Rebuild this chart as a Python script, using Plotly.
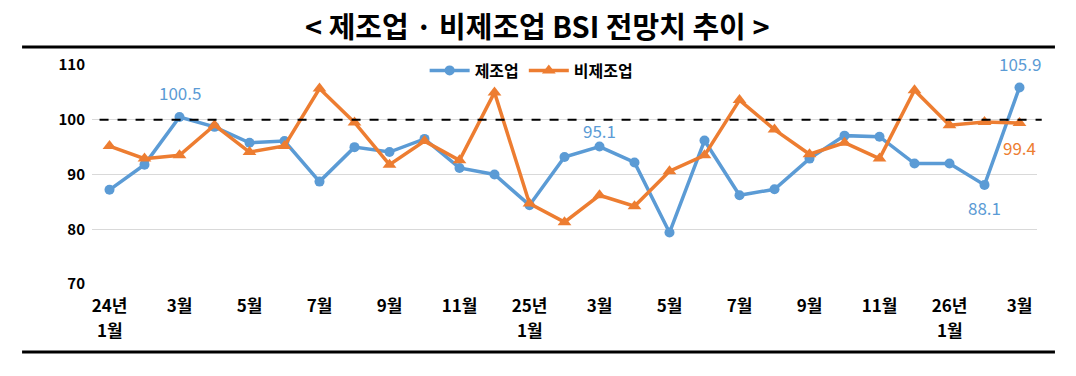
import plotly.graph_objects as go

categories = ["24.01","24.02","24.03","24.04","24.05","24.06","24.07","24.08","24.09","24.10","24.11","24.12",
              "25.01","25.02","25.03","25.04","25.05","25.06","25.07","25.08","25.09","25.10","25.11","25.12",
              "26.01","26.02","26.03"]
manufacturing = [87.2, 91.8, 100.5, 98.7, 95.8, 96.1, 88.7, 95.0, 94.1, 96.5, 91.2, 90.0,
                 84.4, 93.2, 95.1, 92.2, 79.4, 96.2, 86.2, 87.3, 92.9, 97.1, 96.9, 92.0,
                 92.0, 88.1, 105.9]
non_manufacturing = [95.2, 92.9, 93.5, 99.0, 94.1, 95.2, 105.7, 99.5, 91.8, 96.1, 92.6, 105.0,
                     84.7, 81.3, 86.2, 84.2, 90.6, 93.5, 103.6, 98.2, 93.7, 95.8, 92.9, 105.4,
                     99.0, 99.6, 99.4]
tick_vals = categories[::2]
tick_text = ["24년","3월","5월","7월","9월","11월","25년","3월","5월","7월","9월","11월","26년","3월"]
year_month_vals = ["24.01", "25.01", "26.01"]
year_month_text = "1월"
y_ticks = [70, 80, 90, 100, 110]
baseline = 100

BLUE = "#5B9BD5"
ORANGE = "#ED7D31"
FONT = "Noto Sans CJK KR"

fig = go.Figure()
fig.add_trace(go.Scatter(x=categories, y=manufacturing, name="제조업", mode="lines+markers",
                         line=dict(color=BLUE, width=3.5), marker=dict(symbol="circle", size=10, color=BLUE)))
fig.add_trace(go.Scatter(x=categories, y=non_manufacturing, name="비제조업", mode="lines+markers",
                         line=dict(color=ORANGE, width=3.5), marker=dict(symbol="triangle-up", size=12, color=ORANGE)))

fig.add_shape(type="line", xref="paper", yref="y", x0=0.008, x1=1.005, y0=baseline, y1=baseline,
              line=dict(color="black", width=2, dash="dash"))
# title rule lines
fig.add_shape(type="line", xref="paper", yref="paper", x0=-0.074, x1=1.019, y0=1.082, y1=1.082,
              line=dict(color="black", width=3))
fig.add_shape(type="line", xref="paper", yref="paper", x0=-0.074, x1=1.019, y0=-0.31, y1=-0.31,
              line=dict(color="black", width=3))

fig.add_annotation(text="<b>< 제조업 · 비제조업 BSI 전망치 추이 ></b>", xref="paper", yref="paper",
                   x=0.471, y=1.183, xanchor="center", yanchor="middle", showarrow=False,
                   font=dict(family=FONT, size=29, color="black"))

# second line of year-start tick labels
for v in year_month_vals:
    fig.add_annotation(x=categories.index(v), y=-0.21, xref="x", yref="paper", text=year_month_text,
                       showarrow=False, xanchor="center", yanchor="middle",
                       font=dict(family=FONT, size=17, color="black", weight="bold"))

labels = [
    (2, manufacturing[2], "100.5", BLUE, -25),
    (14, manufacturing[14], "95.1", BLUE, -16),
    (26, manufacturing[26], "105.9", BLUE, -24),
    (25, manufacturing[25], "88.1", BLUE, 23),
    (26, non_manufacturing[26], "99.4", ORANGE, 24),
]
for i, y, t, c, dy in labels:
    fig.add_annotation(x=i, y=y, text=t, showarrow=False, yshift=-dy, xanchor="center", yanchor="middle",
                       font=dict(family=FONT, size=17, color=c))

fig.update_layout(
    width=1076, height=376,
    margin=dict(l=92, r=39, t=65, b=92),
    paper_bgcolor="white", plot_bgcolor="white",
    font=dict(family=FONT, color="black"),
    showlegend=True,
    legend=dict(orientation="h", x=0.352, y=0.975, xanchor="left", yanchor="middle",
                font=dict(family=FONT, size=16, color="black", weight="bold"),
                bgcolor="rgba(0,0,0,0)", itemwidth=40),
    xaxis=dict(type="category", categoryorder="array", categoryarray=categories,
               tickvals=tick_vals, ticktext=tick_text, showgrid=False, showline=False,
               ticks="", range=[-0.5, 26.5], ticklabelstandoff=10,
               tickfont=dict(family=FONT, size=17, color="black", weight="bold")),
    yaxis=dict(range=[70, 110], tickvals=y_ticks, showgrid=True, gridcolor="#D9D9D9", gridwidth=1,
               zeroline=False, showline=False, ticks="", ticklabelstandoff=6,
               tickfont=dict(family=FONT, size=15, color="black", weight="bold")),
)

fig.write_html("out.html", config={"displayModeBar": False},
               post_script="document.body.style.margin='0';")
